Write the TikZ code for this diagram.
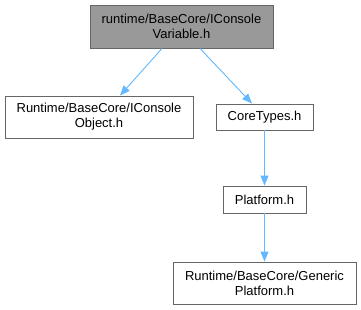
\documentclass[tikz,border=0pt]{standalone}
\usepackage{fontspec}
\setmainfont{Liberation Sans}
\usetikzlibrary{arrows.meta}
\definecolor{edgeblue}{HTML}{63B8FF}
\definecolor{boxline}{HTML}{666666}
\definecolor{curfill}{HTML}{999999}
\tikzset{
  filebox/.style={draw=boxline, line width=0.9pt, fill=white, inner sep=0pt,
    align=center, font=\fontsize{13}{15}\selectfont},
  curbox/.style={filebox, fill=curfill},
  dep/.style={draw=edgeblue, line width=0.9pt,
    -{Triangle[length=10pt,width=8pt]}, edgeblue}
}
\begin{document}
\begin{tikzpicture}[x=1pt,y=-1pt]
  \useasboundingbox (0,0) rectangle (361,309);
  \node[curbox, minimum width=183pt, minimum height=43pt] (var) at (181.5,26.5)
    {runtime/BaseCore/IConsole\\Variable.h};
  \node[filebox, minimum width=188pt, minimum height=42pt] (obj) at (99,117)
    {Runtime/BaseCore/IConsole\\Object.h};
  \node[filebox, minimum width=97pt, minimum height=26pt] (core) at (264.5,117)
    {CoreTypes.h};
  \node[filebox, minimum width=83pt, minimum height=27pt] (plat) at (264.5,199.5)
    {Platform.h};
  \node[filebox, minimum width=183pt, minimum height=42pt] (gen) at (264.5,283)
    {Runtime/BaseCore/Generic\\Platform.h};
  \draw[dep] ([xshift=-19.5pt]var.south) -- ([xshift=21pt]obj.north);
  \draw[dep] ([xshift=18.5pt]var.south) -- ([xshift=-12.5pt]core.north);
  \draw[dep] (core.south) -- (plat.north);
  \draw[dep] (plat.south) -- (gen.north);
\end{tikzpicture}
\end{document}
